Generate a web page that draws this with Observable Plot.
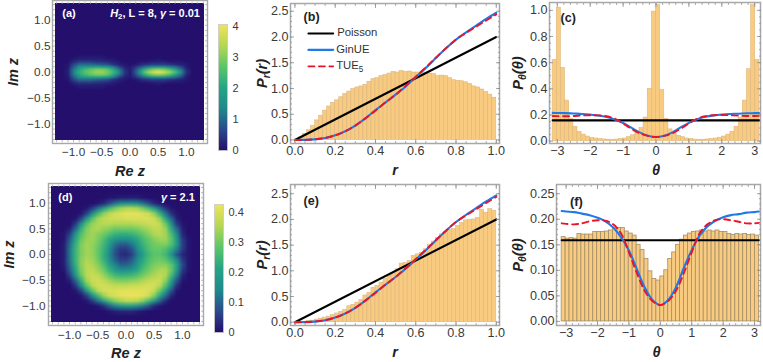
<!DOCTYPE html>
<html><head><meta charset="utf-8">
<script src="https://cdn.jsdelivr.net/npm/d3@7"></script>
<script src="https://cdn.jsdelivr.net/npm/@observablehq/plot@0.6"></script>
<style>
html,body{margin:0;padding:0;background:#fff}
#root{position:relative;width:763px;height:362px;overflow:hidden}
#root svg{position:absolute;overflow:visible;background:transparent}
</style></head><body><div id="root"></div>
<script>
// ---------- data ----------
const histB=[.01,.05,.12,.19,.27,.38,.47,.57,.65,.72,.77,.83,.89,.94,.99,1.02,1.04,1.07,1.13,1.18,1.2,1.24,1.26,1.29,1.32,1.31,1.34,1.32,1.33,1.31,1.31,1.30,1.31,1.29,1.28,1.24,1.25,1.24,1.2,1.16,1.15,1.14,1.12,1.09,1.04,1.02,.98,.93,.88,.82];
const histE=[0,0,.01,.02,.03,.05,.07,.09,.11,.14,.17,.2,.24,.31,.34,.38,.43,.52,.57,.67,.71,.77,.84,.9,.95,1.03,1.14,1.15,1.19,1.29,1.32,1.35,1.42,1.5,1.57,1.64,1.71,1.76,1.8,1.81,1.87,1.93,1.98,1.99,2.0,2.03,2.19,2.13,2.2,2.17];
const histC=[.62,1.02,.56,.31,.17,.11,.07,.05,.035,.025,.02,.016,.013,.011,.01,.012,.015,.02,.03,.045,.065,.10,.18,.40,.99,1.04,.39,.17,.09,.06,.04,.03,.02,.016,.012,.01,.011,.013,.016,.02,.026,.035,.05,.07,.11,.18,.31,.55,1.04,.62];
const histF=[.165,.162,.163,.162,.171,.17,.17,.17,.175,.175,.175,.176,.178,.182,.183,.183,.176,.172,.168,.15,.14,.122,.098,.083,.08,.088,.1,.122,.135,.15,.16,.168,.172,.175,.176,.178,.176,.178,.176,.178,.175,.175,.171,.169,.171,.17,.171,.169,.17,.168];
const rGrid=[0,.05,.1,.15,.2,.25,.3,.35,.4,.45,.5,.55,.6,.65,.7,.75,.8,.85,.9,.95,1];
const ginueR=[0,.002,.012,.04,.09,.17,.28,.42,.58,.73,.88,1.04,1.22,1.4,1.59,1.78,1.95,2.09,2.22,2.35,2.47];
const tueR=[0,.003,.014,.04,.09,.17,.28,.42,.57,.73,.88,1.05,1.23,1.41,1.6,1.78,1.95,2.08,2.2,2.32,2.44];
const poissonR=[{r:0,p:0},{r:1,p:2}];
const thetaGrid=[-3.14,-3,-2.75,-2.5,-2.25,-2,-1.75,-1.5,-1.25,-1,-.75,-.5,-.25,0,.25,.5,.75,1,1.25,1.5,1.75,2,2.25,2.5,2.75,3,3.14];
const ginueT=[.216,.215,.214,.211,.208,.203,.196,.184,.165,.139,.103,.067,.042,.032,.042,.067,.105,.14,.168,.186,.197,.204,.208,.21,.213,.214,.215];
const tueT=[.192,.191,.19,.192,.196,.198,.197,.19,.172,.135,.095,.06,.04,.032,.04,.06,.095,.135,.172,.19,.198,.2,.198,.195,.192,.192,.193];
const poissonT=[{t:-3.14,p:.159},{t:3.14,p:.159}];

// heat map (a): tenths; each row = y from top, starting at x=-1.1 (step .1); rows step .05
const heatARows={
 "0.3":[0,0,1,1,1,1,1,0,0,0,0,0,0,0,0,0,0,0,0,0,0,0,0],
 "0.25":[0,1,2,2,2,2,2,1,1,0,0,0,0,0,0,0,1,0,0,0,0,0,0],
 "0.2":[0,3,5,5,5,4,4,3,2,1,0,0,0,1,1,2,2,2,1,1,1,0,0],
 "0.15":[1,6,10,10,10,9,8,7,4,2,1,0,1,3,4,5,5,5,4,3,2,1,0],
 "0.1":[1,9,15,17,18,19,18,16,12,6,2,1,4,8,12,14,15,14,12,10,6,1,0],
 "0.05":[2,12,20,24,27,29,29,27,21,12,4,1,7,16,24,29,31,29,25,19,11,3,0],
 "0":[2,13,22,26,29,32,32,29,24,15,5,1,9,21,31,37,40,37,32,25,15,4,0],
 "-0.05":[2,12,20,24,27,29,29,27,21,12,4,1,7,16,24,29,31,29,25,19,11,3,0],
 "-0.1":[1,9,15,17,18,19,18,16,12,6,2,1,4,8,12,14,15,14,12,10,6,1,0],
 "-0.15":[1,6,10,10,10,9,8,7,4,2,1,0,1,3,4,5,5,5,4,3,2,1,0],
 "-0.2":[0,3,5,5,5,4,4,3,2,1,0,0,0,1,1,2,2,2,1,1,1,0,0],
 "-0.25":[0,1,2,2,2,2,2,1,1,0,0,0,0,0,0,0,1,0,0,0,0,0,0],
 "-0.3":[0,0,1,1,1,1,1,0,0,0,0,0,0,0,0,0,0,0,0,0,0,0,0]
};
// heat map (d): hundredths; [y, first x, values...], cells step .1
const heatDRows=[
 [1.1,-.3,1,1,2,2,2,2,1],
 [1.0,-.5,1,3,7,11,14,15,15,14,11,7,3,1],
 [.9,-.7,1,5,11,18,25,30,33,35,35,34,30,25,18,10,4,1],
 [.8,-.8,1,6,15,25,32,36,39,40,41,41,41,40,38,32,23,12,4,1],
 [.7,-.9,1,6,16,27,34,37,38,39,39,40,40,40,40,40,38,32,21,10,2],
 [.6,-.9,5,15,27,33,35,36,36,35,35,35,35,36,37,38,39,37,29,16,5,1],
 [.5,-1,2,10,23,31,34,35,33,32,30,30,30,30,31,33,35,37,37,33,22,10,2],
 [.4,-1.1,1,6,17,27,32,34,32,30,27,24,23,23,24,26,29,32,35,36,34,26,14,3],
 [.3,-1.1,1,9,21,29,33,34,31,27,22,18,16,16,18,22,26,29,32,34,34,28,17,5,1],
 [.2,-1.1,2,11,23,31,34,33,30,25,19,12,9,9,12,18,24,28,30,31,31,27,18,6,1],
 [.1,-1.1,2,12,24,31,34,33,29,24,16,9,5,5,8,15,22,27,29,29,27,22,13,5,1],
 [0,-1.1,2,12,24,31,34,33,29,23,15,8,4,3,6,13,20,25,28,28,25,17,8,3,1],
 [-.1,-1.1,2,12,24,32,35,34,30,24,16,10,6,6,9,15,22,27,29,30,28,23,14,5,1],
 [-.2,-1.1,2,11,23,32,36,35,32,27,20,14,10,10,12,18,24,28,31,32,32,28,19,7,1],
 [-.3,-1.1,1,9,21,31,36,37,34,30,24,19,16,16,18,22,27,30,33,35,35,29,18,5,1],
 [-.4,-1,6,17,29,36,38,37,33,29,25,24,24,25,27,30,33,35,37,35,26,13,3],
 [-.5,-1,2,10,23,34,38,39,37,34,32,31,31,32,33,35,37,38,38,32,20,8,1],
 [-.6,-.9,5,15,28,36,39,39,38,37,37,37,38,38,39,40,39,36,27,14,4],
 [-.7,-.9,1,6,17,28,36,39,40,40,41,41,41,41,41,40,37,29,19,8,1],
 [-.8,-.8,1,6,15,25,33,38,40,41,42,42,42,41,38,31,21,11,3],
 [-.9,-.7,1,5,11,19,26,31,34,36,36,35,31,25,17,9,3],
 [-1.0,-.5,1,4,9,13,16,18,18,15,12,8,3,1],
 [-1.1,-.3,1,2,3,3,3,2,1]
];

// ---------- helpers ----------
const ramp=d3.piecewise(d3.interpolateRgb,["#240f6d","#2c4a8c","#1f8a8c","#25a586","#5cc668","#b4d854","#efe35c"]);
const FONT='"Liberation Sans", Arial, sans-serif';
const root=document.getElementById("root");
const BAR="#f8cb80";

function rich(svg){
  d3.select(svg).selectAll("text").each(function(){
    const s=this.textContent;
    if(!/[~*]/.test(s)) return;
    const el=d3.select(this); el.text(null);
    const parts=s.split(/(~[^~]*~|\*[^*]*\*)/).filter(Boolean);
    let shift=false;
    for(const p of parts){
      if(p[0]==="~"){
        el.append("tspan").attr("dy","0.3em").attr("font-size","72%").text(p.slice(1,-1));
        shift=true;
      }else{
        const t=el.append("tspan").text(p[0]==="*"?p.slice(1,-1):p);
        if(p[0]==="*") t.attr("font-style","italic");
        if(shift){t.attr("dy","-0.216em");shift=false;}
      }
    }
  });
}
function panel({L,T,R,B,x,y,marks,color,fs=13}){
  const ml=2,mr=2,mt=2,mb=2;
  const svg=Plot.plot({
    width:R-L+ml+mr,height:B-T+mt+mb,marginLeft:ml,marginRight:mr,marginTop:mt,marginBottom:mb,
    x:{domain:x,axis:null},y:{domain:y,axis:null},color,
    style:{fontFamily:FONT,fontSize:fs+"px",color:"#3a3a3a",background:"transparent",overflow:"visible"},
    marks
  });
  svg.style.left=(L-ml)+"px";svg.style.top=(T-mt)+"px";
  root.appendChild(svg);rich(svg);
}
const xTitle=(s,dx,dy)=>Plot.text([s],{frameAnchor:"bottom",lineAnchor:"middle",textAnchor:"middle",dx,dy,fontSize:14.5,fontWeight:"bold",fontStyle:"italic",fill:"#222"});
const yTitle=(s,dx,dy)=>Plot.text([s],{frameAnchor:"left",lineAnchor:"middle",textAnchor:"middle",rotate:-90,dx,dy,fontSize:14.5,fontWeight:"bold",fontStyle:"italic",fill:"#222"});
const tag=(s,x,y,o={})=>Plot.text([s],{x:()=>x,y:()=>y,textAnchor:"start",fontWeight:"bold",fontSize:12.5,fill:"#222",...o});
const seq=(a,b,s)=>d3.range(Math.round((b-a)/s)+1).map(i=>+(a+i*s).toFixed(4));
const GRAY="#8c8c8c";
function innerTicks(xMaj,xMin,yMaj,yMin){
  const t=[];
  for(const a of ["bottom","top"]){
    t.push(Plot.axisX(xMin,{anchor:a,text:null,tickSize:-2,stroke:GRAY,label:null,strokeWidth:.7}));
    t.push(Plot.axisX(xMaj,{anchor:a,text:null,tickSize:-4,stroke:GRAY,label:null,strokeWidth:.8}));
  }
  for(const a of ["left","right"]){
    t.push(Plot.axisY(yMin,{anchor:a,text:null,tickSize:-2,stroke:GRAY,label:null,strokeWidth:.7}));
    t.push(Plot.axisY(yMaj,{anchor:a,text:null,tickSize:-4,stroke:GRAY,label:null,strokeWidth:.8}));
  }
  return t;
}
const bars=(h,x0,w,stroke,sw)=>Plot.rectY(h,{x1:(d,i)=>x0+i*w,x2:(d,i)=>x0+(i+1)*w,y:d=>d,fill:BAR,stroke,strokeWidth:sw,inset:0});
const curves=(g,blue,red,xk,pois)=>[
  Plot.line(pois,{x:xk,y:"p",stroke:"#000",strokeWidth:2.1}),
  Plot.line(g,{x:(d,i)=>d,y:(d,i)=>blue[i],stroke:"#1f7ae8",strokeWidth:2.1,curve:"catmull-rom"}),
  Plot.line(g,{x:(d,i)=>d,y:(d,i)=>red[i],stroke:"#e8142a",strokeWidth:1.9,strokeDasharray:"6 4.5",curve:"catmull-rom"})
];
const f1=d3.format(".1f"),f2=d3.format(".2f"),f0=d3.format("d");

// Heat-map panel: the frame sits a few pixels outside the image
function heat({L,T,R,B,grid,gw,gh,xe,ye,dom,xPad,yPad,titleX,titleY,letter,note,lx,ly,nx,ny}){
  const major=seq(-1,1,.5),minor=seq(-1.3,1.3,.1);
  const fr=3;
  const t=[
    Plot.raster(grid,{width:gw,height:gh,x1:-xe,x2:xe,y1:ye,y2:-ye,clip:true}),
    Plot.frame({stroke:"#a8a8a8",strokeWidth:1.4,inset:-fr}),
    ...["bottom","top"].map(a=>Plot.axisX(minor,{anchor:a,text:null,tickSize:2.4,stroke:"#a0a0a0",strokeWidth:.7,label:null})),
    ...["left","right"].map(a=>Plot.axisY(minor,{anchor:a,text:null,tickSize:2.4,stroke:"#a0a0a0",strokeWidth:.7,label:null})),
    Plot.axisX(major,{anchor:"bottom",tickSize:0,tickPadding:xPad,tickFormat:f1,label:null}),
    Plot.axisY(major,{anchor:"left",tickSize:0,tickPadding:yPad,tickFormat:f1,label:null}),
    tag(letter,lx,ly,{fill:"#fff",fontSize:11}),
    tag(note,nx,ny,{fill:"#fff",fontSize:11,textAnchor:"end"}),
    titleX,titleY
  ];
  panel({L,T,R,B,x:[-1.32,1.32],y:[-1.32,1.32],marks:t,fs:11.8,
    color:{type:"linear",domain:[0,dom],interpolate:ramp,clamp:true}});
}
function colorbar({L,T,R,B,dom,ticks,fmt}){
  panel({L,T,R,B,x:[0,1],y:[0,dom],fs:11,
    color:{type:"linear",domain:[0,dom],interpolate:ramp,clamp:true},
    marks:[
      Plot.raster({x1:0,x2:1,y1:0,y2:dom,fill:(x,y)=>y}),
      Plot.frame({stroke:"#c9c9c9",strokeWidth:.8}),
      Plot.axisY(ticks,{anchor:"right",tickSize:0,tickPadding:5,tickFormat:fmt,label:null})
    ]});
}

// ---------- grids ----------
const gridA=new Array(27*55).fill(0);
for(const k of Object.keys(heatARows)){
  const row=Math.round((1.35-(+k))/.05);
  heatARows[k].forEach((v,i)=>{gridA[row*27+i+2]=v/10;});
}
const gridD=new Array(27*27).fill(0);
for(const r of heatDRows){
  const row=Math.round((1.3-r[0])*10),c0=Math.round((r[1]+1.3)*10);
  r.slice(2).forEach((v,i)=>{gridD[row*27+c0+i]=v/100;});
}

// ---------- panels ----------
heat({L:55,T:3,R:204,B:140,grid:gridA,gw:27,gh:55,xe:1.35,ye:1.375,dom:4.06,xPad:7,yPad:5,
  titleX:xTitle("Re z",0,31),titleY:yTitle("Im z",-42,0),
  letter:"(a)",lx:-1.2,ly:1.13,note:"*H*~2~, L = 8, *γ* = 0.01",nx:1.24,ny:1.13});
colorbar({L:218,T:24,R:227,B:150,dom:4.06,ticks:[0,1,2,3,4],fmt:f0});

heat({L:51,T:186,R:200,B:322,grid:gridD,gw:27,gh:27,xe:1.35,ye:1.35,dom:.426,xPad:8,yPad:6,
  titleX:xTitle("Re z",0,31),titleY:yTitle("Im z",-42,0),
  letter:"(d)",lx:-1.2,ly:1.11,note:"*γ* = 2.1",nx:1.22,ny:1.11});
colorbar({L:214,T:204,R:223,B:332,dom:.426,ticks:[0,.1,.2,.3,.4],fmt:d=>d===0?"0":f1(d)});

function rPanel(T,B,yd,hist,letter,ty,legend){
  const lg=legend?[
    Plot.line([{r:.067,p:2.07},{r:.19,p:2.07}],{x:"r",y:"p",stroke:"#000",strokeWidth:2}),
    Plot.line([{r:.067,p:1.75},{r:.19,p:1.75}],{x:"r",y:"p",stroke:"#1f7ae8",strokeWidth:2.2}),
    Plot.line([{r:.067,p:1.43},{r:.19,p:1.43}],{x:"r",y:"p",stroke:"#e8142a",strokeWidth:1.9,strokeDasharray:"6 4.5"}),
    tag("Poisson",.21,2.08,{fontWeight:"normal",fontSize:11.3,fill:"#333"}),
    tag("GinUE",.205,1.76,{fontWeight:"normal",fontSize:11.3,fill:"#333"}),
    tag("TUE~5~",.205,1.44,{fontWeight:"normal",fontSize:11.3,fill:"#333"})
  ]:[];
  panel({L:290,T,R:499,B,x:[-.022,1.016],y:yd,fs:12.6,marks:[
    bars(hist,0,.02,"#dcb67e",.6),
    ...curves(rGrid,ginueR,tueR,"r",poissonR),
    Plot.frame({stroke:"#a8a8a8",strokeWidth:1.5}),
    ...innerTicks(seq(0,1,.2),seq(0,1,.05),seq(0,2.5,.5),seq(0,2.5,.1)),
    Plot.axisX(seq(0,1,.2),{anchor:"bottom",tickSize:0,tickPadding:3,tickFormat:f1,label:null}),
    Plot.axisY(seq(0,2.5,.5),{anchor:"left",tickSize:0,tickPadding:2,tickFormat:f1,label:null}),
    tag(letter,.043,ty),...lg,
    xTitle("r",0,27),yTitle("P~r~(r)",-28,0)
  ]});
}
rPanel(3,143,[-.068,2.65],histB,"(b)",2.38,true);
rPanel(184,325,[-.064,2.68],histE,"(e)",2.36,false);

function tPanel(L,T,B,xd,yd,hist,letter,tx,ty,yMaj,yMin,yf,stroke,sw,xLab,yLab,fs){
  panel({L,T,R:760,B,x:xd,y:yd,fs:12.6,marks:[
    bars(hist,-Math.PI,2*Math.PI/50,stroke,sw),
    ...curves(thetaGrid,ginueT,tueT,"t",poissonT),
    Plot.frame({stroke:"#a8a8a8",strokeWidth:1.5}),
    ...innerTicks(seq(-3,3,1),seq(-3,3,.2),yMaj,yMin),
    Plot.axisX(seq(-3,3,1),{anchor:"bottom",tickSize:0,tickPadding:3,tickFormat:f0,label:null}),
    Plot.axisY(yMaj,{anchor:"left",tickSize:0,tickPadding:2,tickFormat:yf,label:null}),
    tag(letter,tx,ty,{fontSize:fs}),
    xTitle("θ",xLab,27),yTitle("P~θ~(θ)",yLab,0)
  ]});
}
tPanel(549,2,143,[-3.237,3.176],[-.018,1.06],histC,"(c)",-2.9,.94,seq(0,1,.2),seq(0,1,.05),f1,"#dcb67e",.6,1,-31,12.5);
tPanel(556,184,325,[-3.306,3.19],[-.008,.268],histF,"(f)",-2.88,.2335,seq(0,.25,.05),seq(0,.25,.01),f2,"#a58e66",.8,-2,-38,13);
</script></body></html>
